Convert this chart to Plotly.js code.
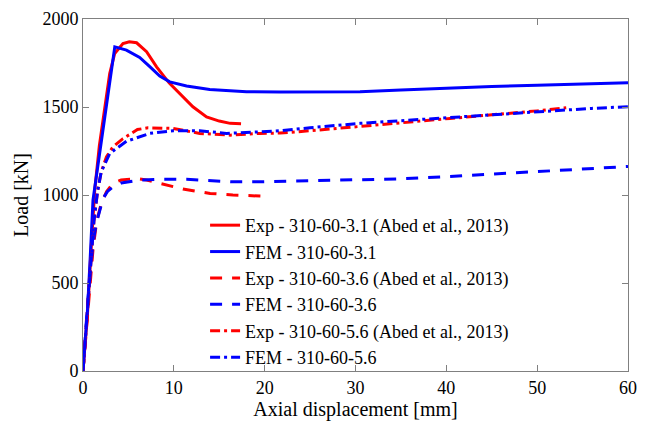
<!DOCTYPE html>
<html>
<head>
<meta charset="utf-8">
<script src="https://cdn.plot.ly/plotly-3.0.1.min.js"></script>
<style>html,body{margin:0;padding:0;background:#fff;}#chart{width:646px;height:425px;}</style>
</head>
<body>
<div id="chart"></div>
<script>
// Exp - 310-60-3.1 (Abed et al., 2013)
const exp31_x = [0, 0.5, 0.9, 1.29, 1.8, 2.39, 2.94, 3.49, 4.4, 5.1, 5.9, 7.0, 8.1, 9.5, 11.0, 12.1, 13.6, 15.0, 16.2, 17.4];
const exp31_y = [0, 330, 700, 1028, 1280, 1501, 1690, 1804, 1860, 1871, 1865, 1814, 1728, 1636, 1558, 1501, 1444, 1420, 1407, 1405];
// FEM - 310-60-3.1
const fem31_x = [0, 0.5, 0.8, 1.1, 2.3, 3.5, 4.78, 6.24, 7.35, 8.45, 9.55, 11.4, 13.95, 18, 21.7, 30.5, 35, 40, 45, 50, 55, 60];
const fem31_y = [0, 350, 650, 971, 1406, 1842, 1823, 1782, 1729, 1676, 1643, 1619, 1600, 1587, 1585, 1587, 1596, 1607, 1616, 1624, 1632, 1638];
// Exp - 310-60-3.6 (Abed et al., 2013)
const exp36_x = [0, 0.4, 0.75, 1.1, 1.5, 2.0, 2.6, 3.3, 4.2, 5.9, 7.0, 8.45, 11.0, 14.0, 16.5, 19.5, 20.0];
const exp36_y = [0, 250, 450, 690, 850, 950, 1020, 1066, 1085, 1094, 1085, 1066, 1034, 1009, 1000, 994, 993];
// FEM - 310-60-3.6
const fem36_x = [0, 0.5, 1.1, 1.47, 2.2, 2.7, 3.3, 4.2, 6.2, 8.5, 11.4, 14, 16.5, 19.5, 22, 25, 30.5, 35, 40, 45, 50, 55, 60];
const fem36_y = [0, 380, 727, 840, 980, 1020, 1047, 1068, 1085, 1090, 1089, 1082, 1075, 1075, 1078, 1080, 1085, 1092, 1104, 1118, 1135, 1148, 1162];
// Exp - 310-60-5.6 (Abed et al., 2013)
const exp56_x = [0, 0.4, 0.8, 1.2, 1.6, 2.0, 2.58, 3.3, 4.4, 6.0, 7.16, 8.5, 9.9, 12.85, 16.2, 19.5, 21.7, 25, 30.5, 35, 40.4, 45, 50, 53.2];
const exp56_y = [0, 300, 600, 850, 1020, 1130, 1217, 1274, 1320, 1372, 1382, 1382, 1378, 1350, 1340, 1350, 1352, 1365, 1388, 1410, 1435, 1455, 1478, 1496];
// FEM - 310-60-5.6
const fem56_x = [0, 0.4, 0.8, 1.2, 1.6, 2.0, 2.94, 4.78, 7.35, 9.9, 12.85, 15.8, 19.5, 21.7, 25, 30.5, 35, 40.4, 45, 50, 53.2, 56, 60];
const fem56_y = [0, 300, 600, 850, 1020, 1130, 1236, 1305, 1350, 1365, 1365, 1350, 1359, 1365, 1382, 1407, 1422, 1441, 1458, 1472, 1483, 1492, 1502];

const names = [
  'Exp - 310-60-3.1 (Abed et al., 2013)',
  'FEM - 310-60-3.1',
  'Exp - 310-60-3.6 (Abed et al., 2013)',
  'FEM - 310-60-3.6',
  'Exp - 310-60-5.6 (Abed et al., 2013)',
  'FEM - 310-60-5.6'
];
const xTicks = [0, 10, 20, 30, 40, 50, 60];
const yTicks = [0, 500, 1000, 1500, 2000];

const RED = '#ff0000', BLUE = '#0000ff';
const DASH = '12px,10px';
const DASHDOT = '10px,4px,3px,4px';
function tr(x, y, name, color, dash) {
  return {x: x, y: y, name: name, type: 'scatter', mode: 'lines',
          line: {color: color, width: 3, dash: dash}};
}
const data = [
  tr(exp31_x, exp31_y, names[0], RED, 'solid'),
  tr(fem31_x, fem31_y, names[1], BLUE, 'solid'),
  tr(exp36_x, exp36_y, names[2], RED, DASH),
  tr(fem36_x, fem36_y, names[3], BLUE, DASH),
  tr(exp56_x, exp56_y, names[4], RED, DASHDOT),
  tr(fem56_x, fem56_y, names[5], BLUE, DASHDOT)
];
const FAM = 'Times New Roman';
const font = {family: FAM, size: 18, color: '#000'};
const axCommon = {
  showgrid: false, zeroline: false, showline: true, linecolor: '#808080', linewidth: 1,
  mirror: 'ticks', ticks: 'inside', ticklen: 6, tickcolor: '#808080', tickwidth: 1,
  tickfont: font
};
const layout = {
  width: 646, height: 425,
  margin: {l: 83, r: 18, t: 19, b: 54},
  paper_bgcolor: '#fff', plot_bgcolor: '#fff',
  font: font,
  showlegend: true,
  legend: {x: 0.224, y: 0.466, xanchor: 'left', yanchor: 'top', bgcolor: 'rgba(0,0,0,0)',
           font: {family: FAM, size: 18, color: '#000'}, tracegroupgap: 0},
  xaxis: Object.assign({}, axCommon, {range: [0, 60], tickvals: xTicks,
          title: {text: 'Axial displacement [mm]', font: {family: FAM, size: 20, color: '#000'}, standoff: 4}}),
  yaxis: Object.assign({}, axCommon, {range: [0, 2000], tickvals: yTicks,
          title: {text: 'Load [kN]', font: {family: FAM, size: 20, color: '#000'}, standoff: 8}})
};
Plotly.newPlot('chart', data, layout, {staticPlot: true, displayModeBar: false});
</script>
</body>
</html>
